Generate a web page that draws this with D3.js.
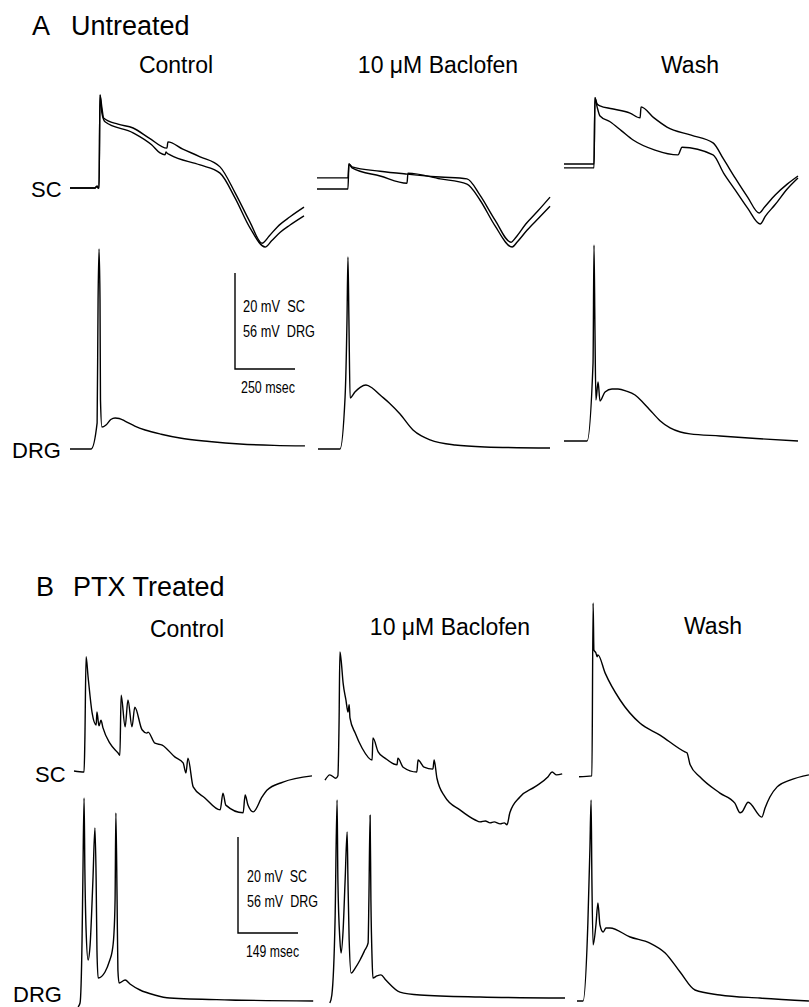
<!DOCTYPE html>
<head>
    <meta charset="utf-8">
    <title>Baclofen on SC / DRG responses</title>
    <style>
        body {
            margin: 0;
            background: #fff;
        }

        text {
            font-family: 'Liberation Sans', Arial, sans-serif;
            fill: #000;
        }

        .trace {
            fill: none;
            stroke: #000;
            stroke-width: 1.4px;
            stroke-linejoin: round;
        }

        .bar {
            fill: none;
            stroke: #000;
            stroke-width: 1.4px;
        }

        .bartext {
            font-family: 'Liberation Sans Narrow', 'Liberation Sans', sans-serif;
            font-size: 16px;
            white-space: pre;
        }
    </style>
    <script src="https://d3js.org/d3.v7.min.js"></script>
</head>

<body>
    <script type="text/javascript">
        "use strict";
        // labels
        const columnNames = ["Control", "10 \u03bcM Baclofen", "Wash"];
        const panelLetters = ["A", "B"];
        const panelNames = ["Untreated", "PTX Treated"];
        const rowNames = ["SC", "DRG"];
        const barLabelsA = ["20 mV  SC", "56 mV  DRG", "250 msec"];
        const barLabelsB = ["20 mV  SC", "56 mV  DRG", "149 msec"];
        const barTime = [250, 149];   // msec
        const barVolt = [20, 56];     // mV for SC, DRG

        // traces, [msec, mV]; zero = resting level of the control cell
        // A, untreated, SC (two sweeps each)
        const aCtrlSc1 = [[0, 0], [104, 0], [113, 0.4], [117, 0], [121, 0], [125, 19.4], [133, 16.7], [140, 14.6], [200, 13.3], [263, 12.5], [330, 10.4], [404, 8.3], [408, 9.6], [470, 8.1], [542, 6.5], [625, 4.4], [688, -1.0], [750, -7.1], [800, -11.5], [830, -10.0], [864, -8.1], [917, -6.0], [975, -4.0]];
        const aCtrlSc2 = [[0, 0], [104, 0], [113, 0.4], [117, 0], [121, 0], [125, 19.4], [133, 15.6], [146, 13.8], [263, 11.5], [340, 9.0], [375, 7.3], [396, 6.9], [400, 7.5], [404, 7.3], [417, 6.9], [542, 4.8], [625, 3.1], [688, -2.1], [750, -8.3], [813, -12.3], [840, -11.0], [876, -9.2], [917, -7.7], [975, -5.8]];
        const aBacSc1 = [[0, 2.1], [129, 2.1], [133, 5.0], [146, 4.4], [263, 3.5], [375, 2.9], [513, 2.3], [625, 1.9], [679, -1.5], [742, -6.7], [808, -11.3], [830, -10.2], [870, -7.5], [920, -4.8], [971, -1.9]];
        const aBacSc2 = [[0, -0.2], [129, -0.2], [133, 5.0], [146, 4.2], [263, 2.5], [375, 1.0], [379, 3.1], [513, 1.9], [625, 0.8], [679, -2.5], [742, -7.9], [813, -12.3], [835, -11.2], [875, -8.8], [925, -6.2], [971, -3.8]];
        const aWashSc1 = [[0, 5.0], [125, 5.0], [129, 18.8], [138, 17.5], [150, 17.1], [200, 16.5], [275, 15.6], [317, 14.6], [321, 16.9], [375, 14.6], [429, 12.7], [530, 11.0], [621, 9.4], [665, 6.0], [713, 2.1], [765, -1.9], [813, -5.2], [835, -4.0], [879, -1.5], [930, 0.8], [975, 2.5]];
        const aWashSc2 = [[0, 4.2], [125, 4.2], [129, 18.8], [138, 16.9], [150, 15.0], [192, 13.8], [240, 11.9], [288, 10.0], [379, 7.9], [475, 6.9], [492, 8.5], [621, 6.9], [665, 3.1], [713, -0.4], [765, -4.2], [817, -7.5], [840, -5.8], [879, -3.5], [930, -0.2], [975, 2.1]];
        // A, untreated, DRG
        const aCtrlDrg = [[0, 0], [88, 0], [113, 15.2], [117, 86.9], [121, 116.7], [125, 86.9], [127, 28.6], [133, 12.8], [150, 14.0], [170, 17.2], [188, 18.1], [205, 17.8], [229, 16.3], [270, 13.4], [313, 11.1], [380, 8.6], [458, 6.4], [580, 4.4], [708, 2.9], [850, 2.1], [979, 1.8]];
        const aBacDrg = [[4, 0], [96, 0], [117, 30.3], [125, 75.3], [129, 112], [133, 75.3], [138, 29.8], [158, 33.3], [180, 36.0], [204, 37.3], [230, 35.6], [263, 31.5], [300, 27.0], [346, 20.4], [400, 11.1], [435, 7.6], [471, 5.3], [575, 2.3], [700, 1.2], [971, 0.6]];
        const aWashDrg = [[0, 4.7], [96, 4.7], [121, 50.2], [125, 119], [129, 69.4], [133, 28.6], [142, 39.1], [150, 28], [171, 33.3], [200, 35.0], [225, 35], [260, 33.8], [296, 31.5], [330, 27.0], [358, 22.8], [400, 16.5], [442, 12.3], [485, 9.9], [525, 8.8], [650, 7.6], [800, 6.1], [975, 4.7]];
        // B, PTX treated, SC
        const bCtrlSc = [[0, 0.2], [25, 0], [27, 6.7], [30, 24.0], [35, 19.8], [45, 12.3], [55, 9.8], [57, 12.5], [62, 9.6], [67, 10.8], [72, 9.2], [89, 6.0], [109, 4.0], [114, 3.5], [117, 16.0], [127, 9.4], [134, 15.0], [144, 9.4], [151, 13.5], [169, 8.8], [181, 8.1], [184, 8.3], [201, 6.0], [219, 5.6], [251, 3.1], [271, 1.9], [278, -0.2], [283, 2.9], [296, -3.1], [325, -5.4], [363, -7.9], [370, -4.4], [377, -6.9], [420, -8.5], [425, -4.8], [432, -6.9], [445, -8.3], [467, -5.2], [479, -3.8], [519, -2.1], [591, -0.8]];
        const bBacSc = [[0, -1.7], [12, -0.6], [27, -1.3], [32, -0.8], [35, 10.8], [37, 25.0], [40, 23.3], [45, 18.5], [52, 15.0], [57, 12.5], [60, 14.0], [62, 11.3], [75, 8.1], [92, 5.0], [117, 2.5], [119, 7.1], [132, 4.2], [149, 2.9], [179, 1.5], [181, 2.9], [194, 1.0], [228, 0], [231, 2.5], [246, 1.0], [268, 0.6], [271, 2.5], [278, -1.3], [298, -5.2], [335, -7.9], [373, -10.0], [385, -10.4], [398, -10.2], [410, -10.6], [420, -10.4], [435, -10.8], [445, -10.6], [452, -11.0], [459, -8.5], [484, -5.2], [521, -3.1], [554, -1.0], [564, 0], [575, -0.6], [589, -0.4]];
        const bWashSc = [[5, -1.0], [37, -0.8], [40, 35.2], [42, 25.4], [47, 24.8], [50, 24.0], [52, 24.4], [70, 20.6], [107, 15.0], [156, 10.2], [206, 7.7], [268, 4.2], [273, 4.0], [281, 1.5], [305, -1.0], [355, -4.4], [392, -6.5], [405, -8.5], [410, -8.3], [425, -6.3], [459, -9.4], [467, -7.5], [479, -5.2], [497, -3.1], [529, -1.7], [576, -0.6]];
        // B, PTX treated, DRG
        const bCtrlDrg = [[10, -2.9], [15, -0.6], [20, 36.2], [22, 71.2], [25, 119], [27, 77], [30, 42], [35, 24.5], [40, 33.3], [47, 71.2], [52, 101.5], [55, 71.2], [57, 30.3], [60, 14.0], [77, 17.5], [89, 24.5], [94, 28.6], [99, 39.1], [102, 59.5], [104, 110.3], [107, 59.5], [109, 18.7], [112, 11.1], [127, 12.8], [139, 10.5], [164, 7.0], [200, 4.1], [238, 2.3], [387, 1.2], [594, 0.6]];
        const bBacDrg = [[12, -0.6], [17, 4.1], [25, 47.8], [30, 117.8], [32, 71.2], [37, 36.2], [40, 28.6], [45, 42], [50, 71.2], [55, 99.2], [57, 71.2], [60, 36.2], [65, 16.9], [75, 19.8], [87, 24.5], [99, 30.3], [107, 34.4], [109, 59.5], [112, 109], [114, 59.5], [117, 24.5], [119, 14.0], [129, 15.2], [139, 15.8], [151, 12.8], [186, 5.8], [236, 4.1], [385, 2.9], [596, 2.3]];
        const bWashDrg = [[0, 0.6], [15, 0.6], [27, 46.1], [32, 88.7], [35, 117.8], [37, 71.2], [40, 33.3], [47, 44.9], [52, 57.8], [57, 44.9], [65, 40.8], [72, 43.2], [82, 43.2], [132, 37.9], [181, 34.4], [219, 28.6], [256, 17.5], [293, 7.0], [355, 4.1], [454, 2.3], [576, 0.6]];

        const traces = [
            [[[aCtrlSc1, aCtrlSc2], [aBacSc1, aBacSc2], [aWashSc1, aWashSc2]],
             [[aCtrlDrg], [aBacDrg], [aWashDrg]]],
            [[[bCtrlSc], [bBacSc], [bWashSc]],
             [[bCtrlDrg], [bBacDrg], [bWashDrg]]]
        ];
        const barLabels = [barLabelsA, barLabelsB];

        // layout of the two panels
        const width = 809, height = 1007;
        const rows = [
            { colLeft: [70, 317, 564], pxPerMs: 60 / 250, zero: [188, 449], titleY: 35, titleX: [32, 71],
              colX: [176, 438, 690], colY: [73, 73, 73], labelX: [31, 12], labelY: [197, 458],
              bar: [235, 369], barText: [[8, -57, 62], [8, -32, 72], [6, 24, 54]] },
            { colLeft: [74, 325, 577], pxPerMs: 60 / 149, zero: [772, 1002], titleY: 596, titleX: [36, 73],
              colX: [187, 450, 713], colY: [637, 635, 634], labelX: [35, 13], labelY: [782, 1002],
              bar: [238, 933], barText: [[9, -51, 60], [9, -26, 71], [8, 24, 53]] }
        ];
        const pxPerMv = [96 / barVolt[0], 96 / barVolt[1]];

        const svg = d3.select("body").append("svg")
            .attr("width", width)
            .attr("height", height);

        rows.forEach(function (r, ri) {
            var g = svg.append("g");

            g.append("text").attr("x", r.titleX[0]).attr("y", r.titleY)
                .style("font-size", "27px").text(panelLetters[ri]);
            g.append("text").attr("x", r.titleX[1]).attr("y", r.titleY)
                .style("font-size", "27px").text(panelNames[ri]);

            g.selectAll(".colname")
                .data(columnNames)
                .enter().append("text")
                .attr("class", "colname")
                .attr("x", function (d, i) { return r.colX[i]; })
                .attr("y", function (d, i) { return r.colY[i]; })
                .attr("text-anchor", "middle")
                .style("font-size", "23px")
                .text(function (d) { return d; });

            g.selectAll(".rowname")
                .data(rowNames)
                .enter().append("text")
                .attr("class", "rowname")
                .attr("x", function (d, i) { return r.labelX[i]; })
                .attr("y", function (d, i) { return r.labelY[i]; })
                .style("font-size", "22px")
                .text(function (d) { return d; });

            // one y scale per recording (SC, DRG)
            var yScales = r.zero.map(function (z, k) {
                return d3.scaleLinear().domain([0, barVolt[k]]).range([z, z - barVolt[k] * pxPerMv[k]]);
            });

            r.colLeft.forEach(function (left, ci) {
                var x = d3.scaleLinear().domain([0, 1000]).range([left, left + 1000 * r.pxPerMs]);
                traces[ri].forEach(function (rec, k) {
                    var line = d3.line()
                        .curve(d3.curveMonotoneX)
                        .x(function (d) { return x(d[0]); })
                        .y(function (d) { return yScales[k](d[1]); });
                    g.selectAll(null)
                        .data(rec[ci])
                        .enter().append("path")
                        .attr("class", "trace")
                        .attr("d", line);
                });
            });

            // scale bar
            var x0 = d3.scaleLinear().domain([0, 1000]).range([0, 1000 * r.pxPerMs]);
            var barH = yScales[0](0) - yScales[0](barVolt[0]);
            var bg = g.append("g").attr("transform", "translate(" + r.bar[0] + "," + r.bar[1] + ")");
            bg.append("path")
                .attr("class", "bar")
                .attr("d", d3.line()([[0, -barH], [0, 0], [x0(barTime[ri]), 0]]));
            bg.selectAll("text")
                .data(barLabels[ri])
                .enter().append("text")
                .attr("class", "bartext")
                .attr("x", function (d, i) { return r.barText[i][0]; })
                .attr("y", function (d, i) { return r.barText[i][1]; })
                .attr("textLength", function (d, i) { return r.barText[i][2]; })
                .attr("lengthAdjust", "spacingAndGlyphs")
                .text(function (d) { return d; });
        });
    </script>
</body>
